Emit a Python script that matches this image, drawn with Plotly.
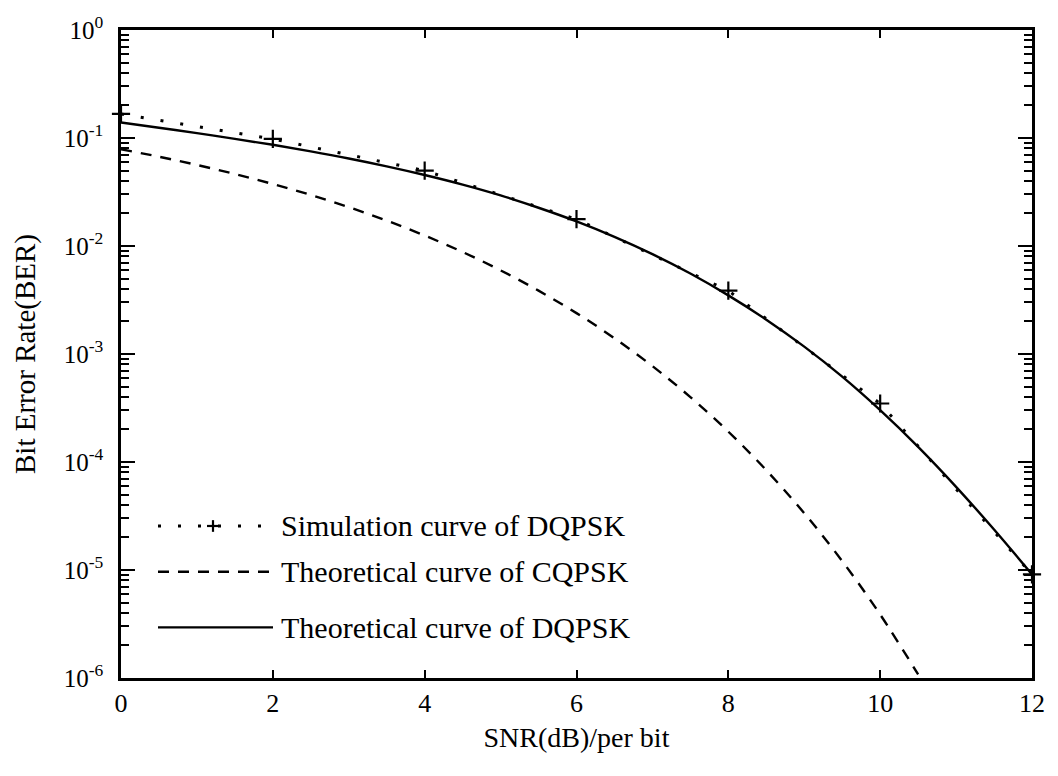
import plotly.graph_objects as go

# SNR per bit (dB)
snr_theory = [0, 0.5, 1, 1.5, 2, 2.5, 3, 3.5, 4, 4.5, 5, 5.5, 6, 6.5, 7, 7.5,
              8, 8.5, 9, 9.5, 10, 10.5, 11, 11.5, 12]
# Theoretical BER of DQPSK
ber_dqpsk_theory = [0.139, 0.1245, 0.1109, 0.0982, 0.0865, 0.0752, 0.0646, 0.0546,
                    0.0454, 0.0370, 0.0294, 0.0226, 0.0169, 0.01216, 0.00841, 0.00556,
                    0.00349, 0.00208, 0.00117, 6.17e-4, 3.02e-4, 1.38e-4, 5.89e-5,
                    2.37e-5, 9.1e-6]

snr_cqpsk = [0, 0.5, 1, 1.5, 2, 2.5, 3, 3.5, 4, 4.5, 5, 5.5, 6, 6.5, 7, 7.5,
             8, 8.5, 9, 9.5, 10, 10.5]
# Theoretical BER of coherent QPSK
ber_cqpsk_theory = [0.0786, 0.0671, 0.0563, 0.0464, 0.0375, 0.0297, 0.0229, 0.0172,
                    0.0125, 0.0088, 0.00595, 0.00386, 0.00239, 0.0014, 7.73e-4,
                    3.99e-4, 1.91e-4, 8.4e-5, 3.36e-5, 1.21e-5, 3.87e-6, 1.08e-6]

# Simulated BER of DQPSK
snr_sim = [0, 2, 4, 6, 8, 10, 12]
ber_dqpsk_sim = [0.167, 0.098, 0.0499, 0.0177, 0.00386, 3.48e-4, 9.1e-6]

x_ticks = [0, 2, 4, 6, 8, 10, 12]
y_ticks = [1, 1e-1, 1e-2, 1e-3, 1e-4, 1e-5, 1e-6]
y_ticktext = ["10<sup>0</sup>", "10<sup>-1</sup>", "10<sup>-2</sup>", "10<sup>-3</sup>",
              "10<sup>-4</sup>", "10<sup>-5</sup>", "10<sup>-6</sup>"]

legend_labels = ["Simulation curve of DQPSK",
                 "Theoretical curve of CQPSK",
                 "Theoretical curve of DQPSK"]

SERIF = "Liberation Serif, Times New Roman, serif"
W, H = 1058, 776
ML, MR, MT, MB = 121, 26, 13, 98
DOT = "3px,17px"
DASH = "11px,9px"

fig = go.Figure()

fig.add_trace(go.Scatter(
    x=snr_sim, y=ber_dqpsk_sim, mode="lines+markers",
    line=dict(color="black", width=3, dash=DOT),
    marker=dict(symbol="cross-thin", size=13, line=dict(color="black", width=2.2)),
    cliponaxis=False))
fig.add_trace(go.Scatter(
    x=snr_cqpsk, y=ber_cqpsk_theory, mode="lines",
    line=dict(color="black", width=2.4, dash=DASH, shape="spline")))
fig.add_trace(go.Scatter(
    x=snr_theory, y=ber_dqpsk_theory, mode="lines",
    line=dict(color="black", width=2.4, shape="spline")))
# empty trace that carries the overlay axis used for minor log ticks
fig.add_trace(go.Scatter(x=[None], y=[None], yaxis="y2", mode="lines",
                         hoverinfo="skip", showlegend=False))

# minor log ticks at 2..9 within every decade
minor_vals = [m * 10.0 ** e for e in range(-6, 0) for m in range(2, 10)]


def px_to_paper(px, py):
    return (px - ML) / (W - ML - MR), (H - MB - py) / (H - MT - MB)


# hand-drawn key in the lower-left corner of the plot
rows_y = [522, 569, 626]
x0, x1, xt = 158, 273, 279
shapes = []
dashes = [DOT, DASH, "solid"]
widths = [3, 2.4, 2.4]
for yy, dsh, wd, lab in zip(rows_y, dashes, widths, legend_labels):
    a = px_to_paper(x0, yy)
    b = px_to_paper(x1, yy)
    shapes.append(dict(type="line", xref="paper", yref="paper",
                       x0=a[0], y0=a[1], x1=b[0], y1=b[1],
                       line=dict(color="black", width=wd, dash=dsh)))
    t = px_to_paper(xt, yy)
    fig.add_annotation(x=t[0], y=t[1], xref="paper", yref="paper",
                       text=lab, showarrow=False, xanchor="left", yanchor="middle",
                       font=dict(family=SERIF, size=30, color="black"))
# plus sign on the simulation key line
cx, cy = 213, rows_y[0]
for (ax, ay, bx, by) in [(cx - 6, cy, cx + 6, cy), (cx, cy - 6, cx, cy + 6)]:
    a = px_to_paper(ax, ay)
    b = px_to_paper(bx, by)
    shapes.append(dict(type="line", xref="paper", yref="paper",
                       x0=a[0], y0=a[1], x1=b[0], y1=b[1],
                       line=dict(color="black", width=2.2)))

fig.update_layout(
    width=W, height=H,
    margin=dict(l=ML, r=MR, t=MT, b=MB),
    plot_bgcolor="white", paper_bgcolor="white",
    showlegend=False,
    shapes=shapes,
    font=dict(family=SERIF, color="black"),
    xaxis=dict(
        range=[0, 12], tickmode="array", tickvals=x_ticks,
        ticks="inside", ticklen=8, tickwidth=2, tickcolor="black",
        showline=True, linewidth=2.5, linecolor="black", mirror="ticks",
        showgrid=False, zeroline=False,
        tickfont=dict(family=SERIF, size=26, color="black"),
        ticklabelstandoff=0,
        title=dict(text="SNR(dB)/per bit", standoff=11,
                   font=dict(family=SERIF, size=28, color="black")),
    ),
    yaxis=dict(
        type="log", range=[-6, 0], tickmode="array",
        tickvals=y_ticks, ticktext=y_ticktext,
        ticks="inside", ticklen=14, tickwidth=2, tickcolor="black",
        showline=True, linewidth=2.5, linecolor="black", mirror="ticks",
        showgrid=False, zeroline=False,
        tickfont=dict(family=SERIF, size=25, color="black"),
        ticklabelstandoff=10, ticklabeloverflow="allow",
        title=dict(text="Bit Error Rate(BER)", standoff=20,
                   font=dict(family=SERIF, size=29, color="black")),
    ),
    yaxis2=dict(
        type="log", range=[-6, 0], overlaying="y", side="left", anchor="x",
        tickmode="array", tickvals=minor_vals, showticklabels=False,
        ticks="inside", ticklen=8, tickwidth=1.6, tickcolor="black",
        showline=True, linewidth=2.5, linecolor="black", mirror="ticks",
        showgrid=False, zeroline=False,
    ),
)

fig.write_html("out.html")
